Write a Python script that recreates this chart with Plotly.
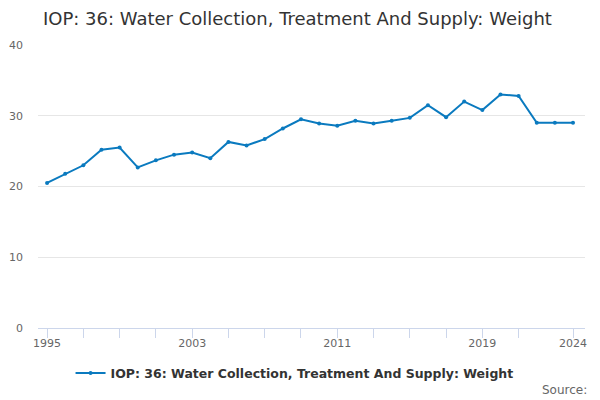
import plotly.graph_objects as go

# Years and series values
years = list(range(1995, 2025))
weight = [20.5, 21.8, 23.0, 25.2, 25.5, 22.7, 23.7, 24.5, 24.8, 24.0,
          26.3, 25.8, 26.7, 28.2, 29.5, 28.9, 28.6, 29.3, 28.9, 29.3,
          29.7, 31.5, 29.8, 32.0, 30.8, 33.0, 32.8, 29.0, 29.0, 29.0]

tick_years = list(range(1995, 2022, 2)) + [2024]
label_years = [1995, 2003, 2011, 2019, 2024]
tick_text = [str(y) if y in label_years else "" for y in tick_years]

series_name = "IOP: 36: Water Collection, Treatment And Supply: Weight"

fig = go.Figure()
fig.add_trace(go.Scatter(
    x=years, y=weight,
    mode="lines+markers",
    name=series_name,
    line=dict(color="#0a7abf", width=2),
    marker=dict(color="#0a7abf", size=4),
))

# page body has an 8px margin, so the figure is 592x392 and shifted
fig.update_layout(
    width=592, height=392,
    margin=dict(l=30, r=15, t=37, b=72, autoexpand=False),
    paper_bgcolor="white",
    plot_bgcolor="white",
    font=dict(family="DejaVu Sans", color="#666666"),
    title=dict(
        text=series_name,
        x=0.059, xanchor="left",
        y=0.974, yanchor="middle",
        font=dict(size=18, color="#333333"),
        automargin=False,
    ),
    showlegend=True,
    legend=dict(
        orientation="h",
        x=0.469, xanchor="center",
        y=-0.16, yanchor="middle",
        font=dict(size=12.5, color="#333333", weight="bold"),
        itemwidth=30,
    ),
    annotations=[dict(
        text="Source:", xref="paper", yref="paper",
        x=1.007, xanchor="right", y=-0.22, yanchor="middle",
        showarrow=False, font=dict(size=12, color="#666666"),
    )],
)

fig.update_xaxes(
    range=[1994.5, 2024.66],
    tickvals=tick_years, ticktext=tick_text,
    ticks="outside", ticklen=9, tickcolor="#ccd6eb",
    showline=True, linecolor="#ccd6eb", linewidth=1,
    showgrid=False, zeroline=False, automargin=False,
    tickfont=dict(size=11, color="#666666"),
    ticklabelstandoff=-4,
)
fig.update_yaxes(
    range=[0, 40], dtick=10,
    showgrid=True, gridcolor="#e6e6e6",
    zeroline=False, showline=False, automargin=False,
    tickfont=dict(size=11, color="#666666"),
    ticklabelstandoff=14,
)

fig.write_html("out.html")
